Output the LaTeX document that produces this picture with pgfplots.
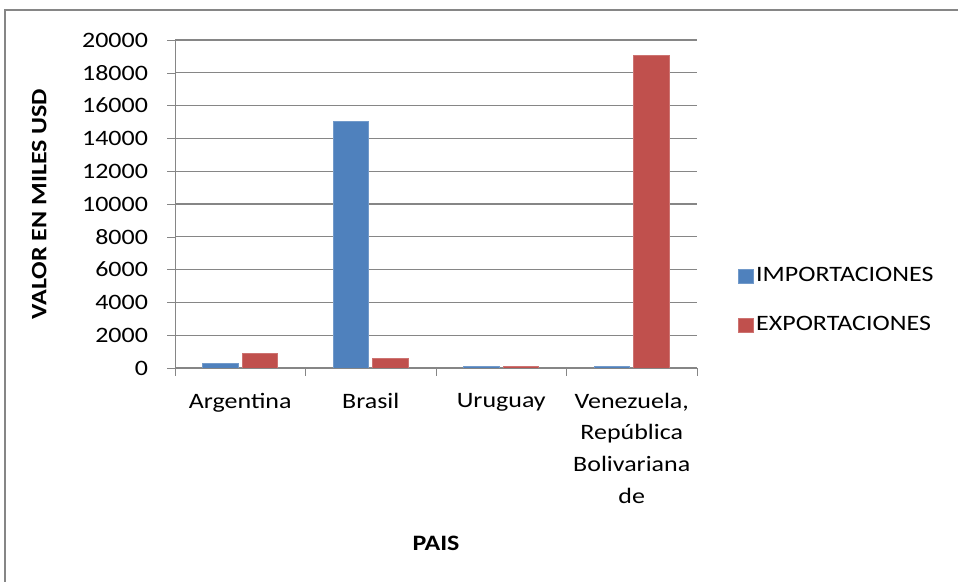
\documentclass[border=0pt]{standalone}
\usepackage{fontspec}
\setmainfont{Carlito}[FakeStretch=1.18]
\usepackage{pgfplots}
\pgfplotsset{compat=1.18}
\definecolor{impc}{HTML}{4F81BD}
\definecolor{expc}{HTML}{C0504D}
\definecolor{gridc}{HTML}{868686}
\begin{document}
\begin{tikzpicture}[x=1pt,y=1pt]
\useasboundingbox (0,0) rectangle (479,291);
\draw[gridc, line width=0.9pt] (2.5,-2) -- (2.5,286) -- (481,286);
\begin{axis}[
  at={(87.5pt,107pt)}, anchor=south west,
  scale only axis, width=261pt, height=164pt,
  ybar, bar width=17.7pt,
  xmin=-0.5, xmax=3.5, ymin=0, ymax=20000,
  axis x line*=bottom, axis y line*=left,
  axis line style={gridc},
  xtick={0,1,2,3},
  xticklabels={Argentina, Brasil, Uruguay, {Venezuela,\\República\\Bolivariana\\de}},
  x tick label style={align=center, font=\fontsize{11}{15.8}\selectfont, yshift=-5pt},
  major x tick style={draw=none},
  extra x ticks={-0.5,0.5,1.5,2.5,3.5},
  extra x tick labels={},
  extra x tick style={major tick length=4pt, tick align=outside, major x tick style={draw=gridc}, grid=none},
  ytick={0,2000,...,20000},
  y tick label style={font=\fontsize{11}{13}\selectfont, xshift=-6pt},
  /pgf/number format/assume math mode=true,
  /pgf/number format/1000 sep={},
  scaled y ticks=false,
  ymajorgrids, grid style={gridc, line width=0.6pt},
  major y tick style={gridc}, major tick length=4pt, tick align=outside,
  ylabel={\bfseries VALOR EN MILES USD},
  ylabel style={font=\fontsize{11}{13}\selectfont, at={(axis description cs:-0.26,0.5)}, anchor=center},
  xlabel={\bfseries PAIS},
  xlabel style={font=\fontsize{11}{13}\selectfont, at={(axis description cs:0.5,0)}, anchor=center, yshift=-87.5pt},
  legend style={draw=none, fill=none, at={(1.0785,0.206)}, anchor=west, inner xsep=0pt, inner ysep=0pt,
    font=\fontsize{11}{13}\selectfont, row sep=12pt, legend cell align=left,
    nodes={inner sep=1pt, text height=8pt, text depth=2.5pt}},
  legend image code/.code={\fill[#1] (0pt,-3.5pt) rectangle (7.5pt,3.5pt);},
]
\addplot[fill=impc, draw=impc!80!white] coordinates {(0,270) (1,15050) (2,100) (3,100)};
\addplot[fill=expc, draw=expc!80!white] coordinates {(0,880) (1,570) (2,100) (3,19050)};
\legend{IMPORTACIONES, EXPORTACIONES}
\end{axis}
\end{tikzpicture}
\end{document}
